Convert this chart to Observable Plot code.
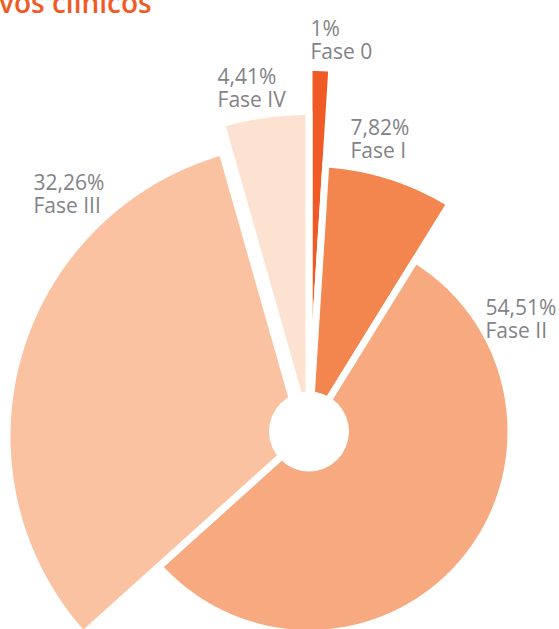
<!DOCTYPE html>
<html>
<head>
<meta charset="utf-8">
<script src="https://cdn.jsdelivr.net/npm/d3@7"></script>
<script src="https://cdn.jsdelivr.net/npm/@observablehq/plot@0.6"></script>
<style>
  html, body { margin: 0; padding: 0; background: #fff; }
  #wrap { position: relative; width: 559px; height: 629px; overflow: hidden; }
  #title { position: absolute; left: -1px; top: -12px; font-family: "Open Sans", sans-serif; font-weight: 600;
           font-size: 28px; line-height: 28px; color: #f15a24; white-space: nowrap; }
  #chart { position: absolute; left: 0; top: 0; }
</style>
</head>
<body>
<div id="wrap">
  <div id="chart"></div>
  <div id="title">vos clínicos</div>
</div>
<script>
// ---- data ----
const phases = ["Fase 0", "Fase I", "Fase II", "Fase III", "Fase IV"];
const shares = [1, 7.82, 54.51, 32.26, 4.41];           // % of trials
const reach  = [364, 268, 202, 296, 320];               // radial length of each slice (design value)

// ---- layout / style (not data) ----
const colors = ["#f05a24", "#f3864f", "#f7aa7f", "#fac2a1", "#fde2d1"];
const shift = [[0, 0], [0, 0], [0, 0], [-6, -5], [0, 0]]; // small per-slice displacement
const labelAngle = [0.2, 7.55, 53.0, 313.1, 345.9];     // degrees clockwise from top
const labelDist  = [412, 315.7, 221, 377.4, 375.3];

// build slice outlines from cumulative shares
const total = d3.sum(shares);
let cum = 0;
const slices = phases.map((p, i) => {
  const a0 = cum / total * 360;
  cum += shares[i];
  const a1 = cum / total * 360;
  const n = Math.max(2, Math.ceil((a1 - a0) / 0.5));
  const [sx, sy] = shift[i];
  const pts = [{x: sx, y: sy}];
  for (let k = 0; k <= n; ++k) {
    const a = (a0 + (a1 - a0) * k / n) * Math.PI / 180;
    pts.push({x: sx + reach[i] * Math.sin(a), y: sy + reach[i] * Math.cos(a)});
  }
  pts.push({x: sx, y: sy});
  return {phase: p, pts};
});

const labels = phases.map((p, i) => {
  const a = labelAngle[i] * Math.PI / 180;
  return {
    x: labelDist[i] * Math.sin(a),
    y: labelDist[i] * Math.cos(a),
    text: `${String(shares[i]).replace(".", ",")}%\n${p}`
  };
});

const chart = Plot.plot({
  width: 559,
  height: 629,
  margin: 0,
  x: {domain: [-308.5, 250.5], axis: null},
  y: {domain: [-198, 431], axis: null},
  style: {background: "white", overflow: "visible"},
  marks: [
    ...slices.map((s, i) => Plot.line(s.pts, {
      x: "x", y: "y", fill: colors[i], stroke: "white", strokeWidth: 7, strokeLinejoin: "round"
    })),
    Plot.dot([{x: 0, y: 0}], {x: "x", y: "y", r: 40, fill: "white", stroke: "none"}),
    Plot.text(labels, {
      x: "x", y: "y", text: "text", textAnchor: "start", lineAnchor: "top", lineHeight: 1.1,
      fontSize: 21, fill: "#828387", fontFamily: "'Open Sans', sans-serif"
    })
  ]
});
document.getElementById("chart").appendChild(chart);
</script>
</body>
</html>
